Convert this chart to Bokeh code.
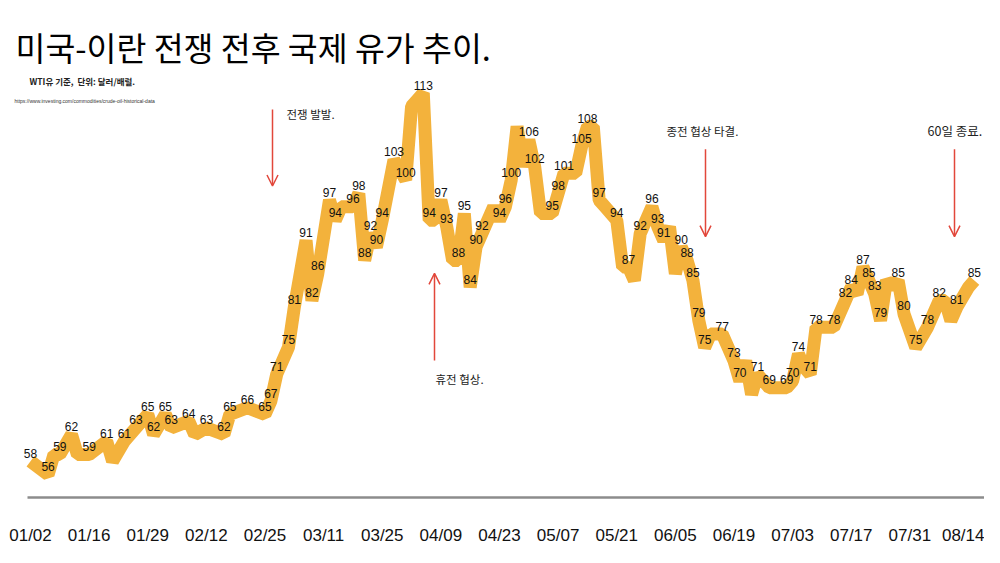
from bokeh.plotting import figure
from bokeh.models import Range1d, FixedTicker, Label, Arrow, OpenHead, ColumnDataSource
from bokeh.embed import file_html
from bokeh.resources import INLINE
from bokeh.core.properties import value

# trading-day index, WTI price (USD/bbl) and the printed label ("" = unlabeled vertex)
days = [0, 3, 4, 5, 7, 8, 10, 13, 14, 16, 18, 20, 21, 23, 24, 27, 28, 30, 33, 34,
        37, 40, 41, 42, 44, 45, 47, 48, 49, 51, 52, 53, 55, 56, 57, 58, 59, 60, 62, 64,
        65, 66, 67, 68, 69, 70, 71, 72, 73, 74, 75, 76, 77, 79, 80, 81, 82, 83, 84, 85,
        86, 87, 89, 90, 91, 93, 94, 95, 96, 97, 98, 100, 101, 102, 103, 104, 106, 107, 108, 109,
        110, 111, 112, 113, 114, 115, 116, 118, 120, 121, 122, 123, 124, 126, 129, 130, 131, 132, 133, 134,
        137, 139, 140, 141, 142, 143, 144, 145, 146, 147, 148, 149, 151, 153, 155, 156, 157, 158, 160, 161]
prices = [58, 56, 59, 59, 62, 59, 59, 61, 58, 61, 63, 65, 62, 65, 63, 64, 62, 63, 62, 65,
          66, 65, 67, 71, 75, 81, 91, 82, 86, 97, 94, 96, 96, 98, 88, 92, 90, 94, 103, 100,
          111, 112, 113, 94, 94, 97, 93, 88, 88, 95, 84, 90, 92, 96, 94, 96, 100, 108, 102, 106,
          102, 95, 95, 98, 101, 101, 105, 108, 108, 97, 96, 94, 87, 87, 85, 92, 96, 93, 91, 93,
          86, 90, 88, 85, 79, 75, 77, 77, 73, 70, 73, 68, 71, 69, 69, 70, 74, 72, 71, 78,
          78, 82, 84, 83, 87, 85, 83, 79, 85, 84, 85, 80, 75, 78, 82, 82, 79, 81, 84, 85]
price_labels = ["58", "56", "", "59", "62", "", "59", "61", "", "61", "63", "65", "62", "65", "63", "64", "", "63", "62", "65",
                "66", "65", "67", "71", "75", "81", "91", "82", "86", "97", "94", "", "96", "98", "88", "92", "90", "94", "103", "100",
                "", "", "113", "94", "", "97", "93", "", "88", "95", "84", "90", "92", "", "94", "96", "100", "", "", "106",
                "102", "", "95", "98", "101", "", "105", "108", "", "97", "", "94", "", "87", "", "92", "96", "93", "91", "",
                "", "90", "88", "85", "79", "75", "", "77", "73", "70", "", "", "71", "69", "69", "70", "74", "", "71", "78",
                "78", "82", "84", "", "87", "85", "83", "79", "", "", "85", "80", "75", "78", "82", "", "", "81", "", "85"]

tick_days = [0, 10, 20, 30, 40, 50, 60, 70, 80, 90, 100, 110, 120, 130, 140, 150, 160]
tick_labels = ["01/02", "01/16", "01/29", "02/12", "02/25", "03/11", "03/25", "04/09", "04/23",
               "05/07", "05/21", "06/05", "06/19", "07/03", "07/17", "07/31", "08/14"]

title_text = "미국-이란 전쟁 전후 국제 유가 추이."
subtitle_text = "WTI유 기준,\u00a0 단위: 달러/배럴."
source_text = "https://www.investing.com/commodities/crude-oil-historical-data"

events = ["전쟁 발발.", "휴전 협상.", "종전 협상 타결.", "60일 종료."]

# --- layout helpers (pixel -> data) used only to place annotations/ranges ---
PX0, PX_PER_DAY = 30.0, 58.625 / 10
PY0, PY_PER_USD, V0 = 478.0, 6.75, 56.0
def sx(px):
    return (px - PX0) / PX_PER_DAY
def sy(py):
    return V0 + (PY0 - py) / PY_PER_USD

W, H = 984, 547
FRAME_BOTTOM = 501
p = figure(width=W, height=H, output_backend="svg", toolbar_location=None,
           x_range=Range1d(sx(0), sx(W)), y_range=Range1d(sy(FRAME_BOTTOM), sy(0)),
           y_axis_location=None,
           min_border_left=0, min_border_right=0, min_border_top=0,
           min_border_bottom=H - FRAME_BOTTOM)
p.outline_line_color = None
p.grid.visible = False
p.background_fill_color = "white"
p.border_fill_color = "white"

ax = p.xaxis[0]
ax.ticker = FixedTicker(ticks=tick_days)
ax.major_label_overrides = {d: t for d, t in zip(tick_days, tick_labels)}
ax.bounds = (sx(27), sx(984))
ax.axis_line_color = "#8c8c8c"
ax.axis_line_width = 2.5
ax.major_tick_line_color = None
ax.minor_tick_line_color = None
ax.major_tick_out = 0
ax.major_tick_in = 0
ax.major_label_standoff = 28
ax.major_label_text_font = "Liberation Sans"
ax.major_label_text_font_size = "17px"
ax.major_label_text_color = "#111111"

src = ColumnDataSource(dict(day=days, price=prices, label=price_labels))
p.line("day", "price", source=src, line_width=13, line_color="#F3B23C", line_join="bevel")
p.text("day", "price", text="label", source=src, text_font=value("Liberation Sans"),
       text_font_size="12px", text_align="center", text_baseline="middle",
       y_offset=-8, text_color="#111111")

# title block
p.add_layout(Label(x=sx(15), y=sy(46), text=title_text, text_font="Noto Sans CJK KR",
                   text_font_size="32.5px", text_baseline="middle", text_color="#000000"))
p.add_layout(Label(x=sx(29), y=sy(81), text=subtitle_text, text_font="Noto Sans CJK KR",
                   text_font_size="8.5px", text_font_style="bold", text_baseline="middle",
                   text_color="#222222"))
p.add_layout(Label(x=sx(14), y=sy(101), text=source_text, text_font="Liberation Sans",
                   text_font_size="5px", text_baseline="middle", text_color="#333333"))

# events
red = "#E2473B"
ev_text_pos = [(286, 114), (435, 382), (666, 132), (927, 131)]
ev_sizes = ["11.5px", "11.5px", "11.5px", "12.5px"]
ev_arrows = [(272, 110, 187), (434, 363, 275), (705, 150, 238), (954, 150, 238)]
for t, (tx, ty), fs in zip(events, ev_text_pos, ev_sizes):
    p.add_layout(Label(x=sx(tx), y=sy(ty), text=t, text_font="Noto Sans CJK KR",
                       text_font_size=fs, text_baseline="middle", text_color="#222222"))
for ax_x, y0, y1 in ev_arrows:
    p.add_layout(Arrow(end=OpenHead(line_color=red, line_width=1.5, size=11),
                       x_start=sx(ax_x), y_start=sy(y0), x_end=sx(ax_x), y_end=sy(y1),
                       line_color=red, line_width=1.5))

open("out.html", "w").write(file_html(p, INLINE))
